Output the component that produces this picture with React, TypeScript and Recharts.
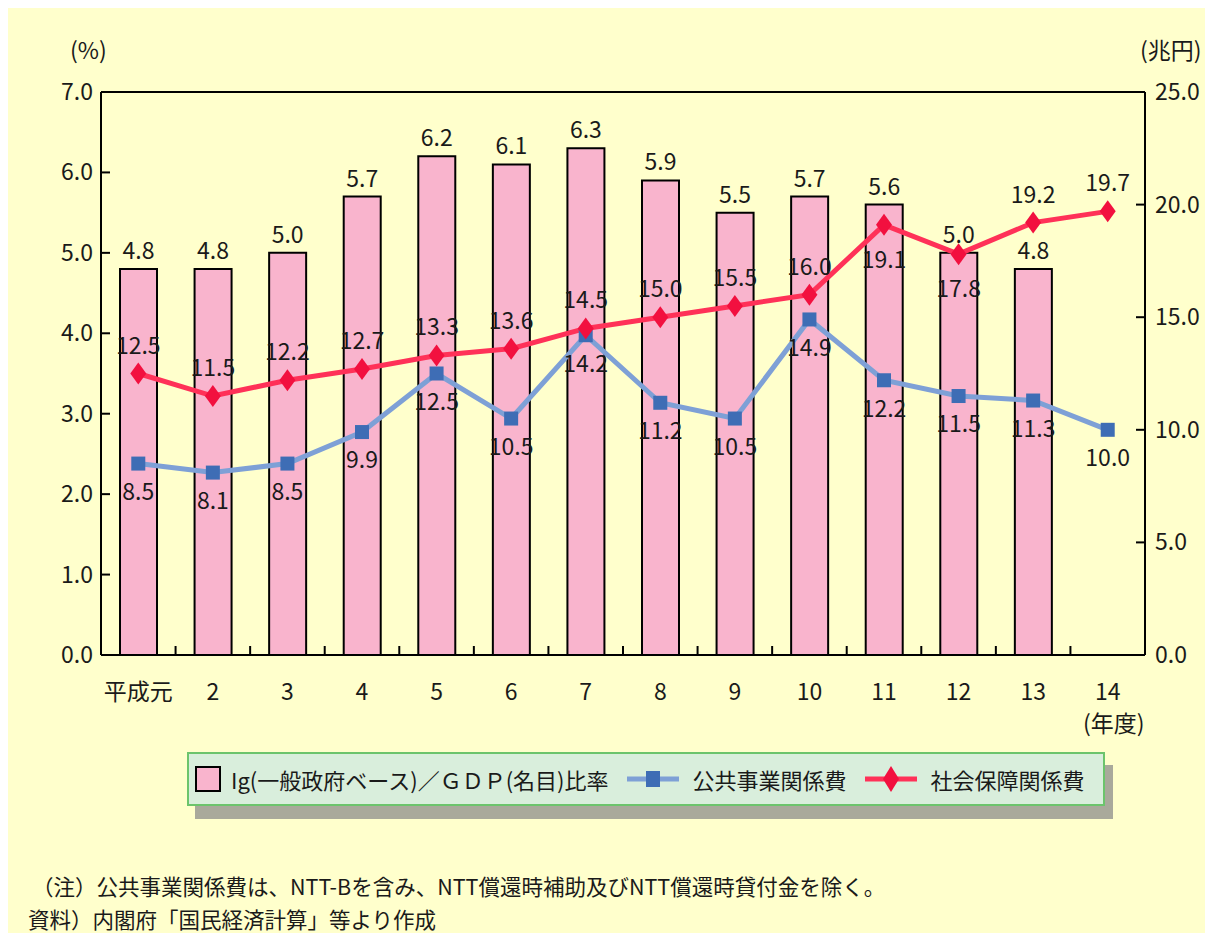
import React from 'react';
import { ComposedChart, Bar, Line, XAxis, YAxis, LabelList, ReferenceLine } from 'recharts';

const categories = ['平成元', '2', '3', '4', '5', '6', '7', '8', '9', '10', '11', '12', '13', '14'];
const igRatio: (number | null)[] = [4.8, 4.8, 5.0, 5.7, 6.2, 6.1, 6.3, 5.9, 5.5, 5.7, 5.6, 5.0, 4.8, null];
const publicWorks = [8.5, 8.1, 8.5, 9.9, 12.5, 10.5, 14.2, 11.2, 10.5, 14.9, 12.2, 11.5, 11.3, 10.0];
const socialSecurity = [12.5, 11.5, 12.2, 12.7, 13.3, 13.6, 14.5, 15.0, 15.5, 16.0, 19.1, 17.8, 19.2, 19.7];
const leftTicks = [0, 1, 2, 3, 4, 5, 6, 7];
const rightTicks = [0, 5, 10, 15, 20, 25];
const ssLabelBelow = ['11', '12'];

const data = categories.map((c, i) => ({
  cat: c,
  ig: igRatio[i],
  pw: publicWorks[i],
  ss: socialSecurity[i],
}));

const FONT = "'Noto Sans CJK JP', 'Noto Sans', sans-serif";
const TXT = '#1a1a1a';
const BG = '#FFFFCC';
const PINK = '#F9B4CD';
const BLUE_LINE = '#7EA0D6';
const BLUE_DOT = '#3E6DB5';
const RED_LINE = '#FF3158';
const RED_DOT = '#F2103F';

const fmt = (v: any) => (v == null ? '' : Number(v).toFixed(1));

const XTick = (props: any) => {
  const { x, y, payload, index, width } = props;
  const band = (width || 1044) / categories.length;
  const bx = x + band / 2;
  const isLast = index === categories.length - 1;
  return (
    <g>
      {!isLast && <line x1={bx} y1={y} x2={bx} y2={y - 9} stroke="#000" strokeWidth={2} />}
      <text x={x} y={y + 45} textAnchor="middle" fontSize={23} fontFamily={FONT} fill={TXT}>
        {payload.value}
      </text>
      {isLast && (
        <text x={x + 6} y={y + 77} textAnchor="middle" fontSize={23} fontFamily={FONT} fill={TXT}>
          (年度)
        </text>
      )}
    </g>
  );
};

const LeftTick = (props: any) => {
  const { x, y, payload } = props;
  return (
    <g>
      {payload.value !== 0 && payload.value !== 7 && (
        <line x1={x} y1={y} x2={x + 9} y2={y} stroke="#000" strokeWidth={2} />
      )}
      <text x={x - 8} y={y + 8} textAnchor="end" fontSize={23} fontFamily={FONT} fill={TXT}>
        {Number(payload.value).toFixed(1)}
      </text>
    </g>
  );
};

const RightTick = (props: any) => {
  const { x, y, payload } = props;
  return (
    <g>
      {payload.value !== 0 && payload.value !== 25 && (
        <line x1={x} y1={y} x2={x - 9} y2={y} stroke="#000" strokeWidth={2} />
      )}
      <text x={x + 10} y={y + 8} textAnchor="start" fontSize={23} fontFamily={FONT} fill={TXT}>
        {Number(payload.value).toFixed(1)}
      </text>
    </g>
  );
};

const SquareDot = (props: any) => {
  const { cx, cy } = props;
  if (cx == null || cy == null) return null;
  return <rect x={cx - 7} y={cy - 7} width={14} height={14} fill={BLUE_DOT} />;
};

const DiamondDot = (props: any) => {
  const { cx, cy } = props;
  if (cx == null || cy == null) return null;
  return <polygon points={`${cx},${cy - 11} ${cx + 8},${cy} ${cx},${cy + 11} ${cx - 8},${cy}`} fill={RED_DOT} />;
};

const SsLabel = (props: any) => {
  const { x, y, value, index } = props;
  if (value == null) return null;
  const below = ssLabelBelow.includes(categories[index]);
  return (
    <text
      x={x}
      y={below ? y + 43 : y - 20}
      textAnchor="middle"
      fontSize={23}
      fontFamily={FONT}
      fill={TXT}
    >
      {fmt(value)}
    </text>
  );
};

const labelStyle = { fontSize: 23, fontFamily: FONT, fill: TXT } as any;

const App = () => {
  return (
    <div style={{ position: 'relative', width: 1197, height: 925, background: BG, fontFamily: FONT, color: TXT }}>
      <div style={{ position: 'absolute', left: 62, top: 24, fontSize: 23 }}>(%)</div>
      <div style={{ position: 'absolute', left: 1132, top: 24, fontSize: 23 }}>(兆円)</div>
      <ComposedChart
        width={1197}
        height={760}
        data={data}
        margin={{ top: 84, left: 92, right: 59, bottom: 112 }}
        style={{ position: 'absolute', left: 0, top: 0 }}
      >
        <XAxis
          dataKey="cat"
          height={1}
          tickSize={0}
          tickMargin={0}
          tickLine={false}
          axisLine={{ stroke: '#000', strokeWidth: 2 }}
          tick={<XTick />}
          interval={0}
        />
        <YAxis
          yAxisId="left"
          orientation="left"
          width={1}
          domain={[0, 7]}
          ticks={leftTicks}
          tickSize={0}
          tickMargin={0}
          tickLine={false}
          axisLine={{ stroke: '#000', strokeWidth: 2 }}
          tick={<LeftTick />}
          interval={0}
        />
        <YAxis
          yAxisId="right"
          orientation="right"
          width={1}
          domain={[0, 25]}
          ticks={rightTicks}
          tickSize={0}
          tickMargin={0}
          tickLine={false}
          axisLine={{ stroke: '#000', strokeWidth: 2 }}
          tick={<RightTick />}
          interval={0}
        />
        <ReferenceLine yAxisId="left" y={7} stroke="#000" strokeWidth={2} />
        <Bar yAxisId="left" dataKey="ig" barSize={37} fill={PINK} stroke="#000" strokeWidth={2} isAnimationActive={false}>
          <LabelList dataKey="ig" position="top" offset={10} formatter={fmt} style={labelStyle} />
        </Bar>
        <Line
          yAxisId="right"
          dataKey="pw"
          stroke={BLUE_LINE}
          strokeWidth={5}
          dot={<SquareDot />}
          activeDot={false}
          isAnimationActive={false}
        >
          <LabelList dataKey="pw" position="bottom" offset={20} formatter={fmt} style={labelStyle} />
        </Line>
        <Line
          yAxisId="right"
          dataKey="ss"
          stroke={RED_LINE}
          strokeWidth={5}
          dot={<DiamondDot />}
          activeDot={false}
          isAnimationActive={false}
        >
          <LabelList dataKey="ss" content={<SsLabel />} />
        </Line>
      </ComposedChart>

      <div
        style={{
          position: 'absolute',
          left: 179,
          top: 744,
          width: 914,
          height: 50,
          background: '#D9EEDC',
          border: '2px solid #6CC46C',
          boxShadow: '8px 13px 0 #A9A99B',
          display: 'flex',
          alignItems: 'center',
          fontSize: 22,
          whiteSpace: 'nowrap',
        }}
      >
        <div style={{ width: 26, height: 26, background: PINK, border: '2px solid #000', marginLeft: 6, marginRight: 10, boxSizing: 'border-box' }} />
        <span>Ig(一般政府ベース)／ＧＤＰ(名目)比率</span>
        <svg width={56} height={32} style={{ marginLeft: 16, marginRight: 12 }}>
          <line x1={2} y1={16} x2={54} y2={16} stroke={BLUE_LINE} strokeWidth={5} />
          <rect x={21} y={8} width={14} height={16} fill={BLUE_DOT} />
        </svg>
        <span>公共事業関係費</span>
        <svg width={56} height={32} style={{ marginLeft: 16, marginRight: 12 }}>
          <line x1={2} y1={16} x2={54} y2={16} stroke={RED_LINE} strokeWidth={5} />
          <polygon points="28,3 36,16 28,29 20,16" fill={RED_DOT} />
        </svg>
        <span>社会保障関係費</span>
      </div>

      <div style={{ position: 'absolute', left: 24, top: 861, fontSize: 21.5, lineHeight: '33px' }}>
        <div>（注）公共事業関係費は、NTT-Bを含み、NTT償還時補助及びNTT償還時貸付金を除く。</div>
        <div style={{ marginLeft: -4 }}>資料）内閣府「国民経済計算」等より作成</div>
      </div>
    </div>
  );
};

export default App;
